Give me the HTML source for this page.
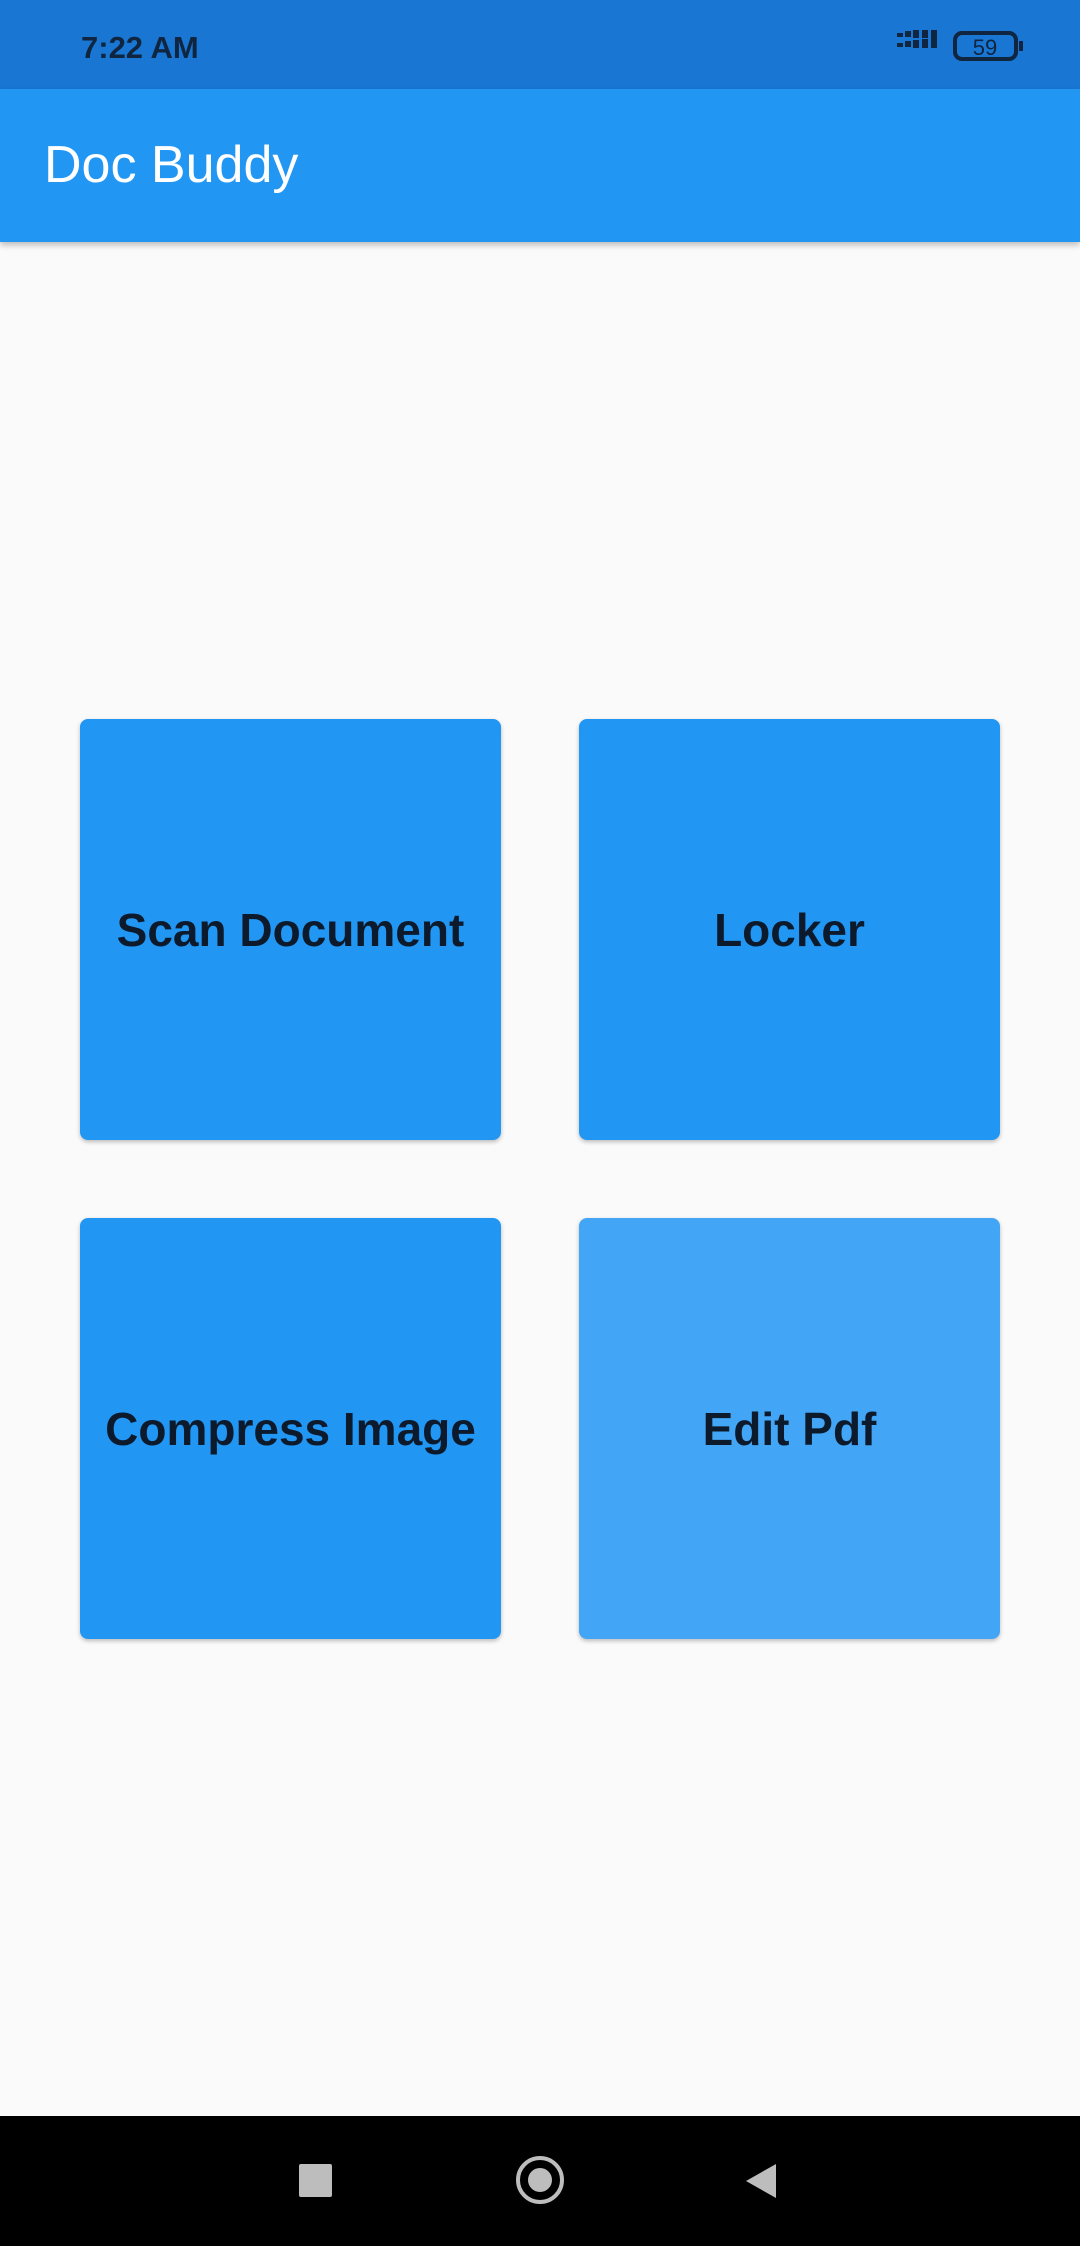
<!DOCTYPE html>
<html><head><style>
html,body{margin:0;padding:0}
body{width:1080px;height:2246px;position:relative;background:#fafafa;font-family:"Liberation Sans",sans-serif;overflow:hidden}
.sb{position:absolute;left:0;top:0;width:1080px;height:89px;background:#1976D2}
.ab{position:absolute;left:0;top:89px;width:1080px;height:153px;background:#2196F3;box-shadow:0 3px 6px rgba(0,0,0,.25)}
.card{position:absolute;width:421px;height:421px;background:#2196F3;border-radius:8px;box-shadow:0 2px 4px rgba(0,0,0,.25);display:flex;align-items:center;justify-content:center;font-weight:bold;font-size:46px;color:#0d1a2b}
.nav{position:absolute;left:0;top:2116px;width:1080px;height:130px;background:#000}
</style></head><body>
<div class="sb">
<div style="position:absolute;left:81px;top:30px;font-size:31px;font-weight:bold;color:#0f2540">7:22 AM</div>
<svg style="position:absolute;left:895px;top:30px" width="130" height="36">
<g fill="#0f2540">
<rect x="2" y="3" width="6" height="4"/><rect x="10" y="1" width="6" height="6"/><rect x="18" y="0" width="6" height="8"/><rect x="27" y="0" width="6" height="8"/><rect x="36" y="-2" width="6" height="10"/>
<rect x="2" y="13" width="6" height="4"/><rect x="10" y="11" width="6" height="6"/><rect x="18" y="10" width="6" height="8"/><rect x="27" y="9" width="6" height="9"/><rect x="36" y="8" width="6" height="10"/>
</g>
<rect x="60" y="3" width="61" height="26" rx="7" fill="none" stroke="#0f2540" stroke-width="4"/>
<rect x="124" y="11" width="4" height="10" fill="#0f2540"/>
<text x="90" y="25" font-size="22" text-anchor="middle" fill="#0f2540" font-family="Liberation Sans">59</text>
</svg>
</div>
<div class="ab"><div style="position:absolute;left:44px;top:46px;font-size:52px;color:#fff">Doc Buddy</div></div>
<div class="card" style="left:80px;top:719px">Scan Document</div>
<div class="card" style="left:579px;top:719px">Locker</div>
<div class="card" style="left:80px;top:1218px">Compress Image</div>
<div class="card" style="left:579px;top:1218px;background:#42A5F5">Edit Pdf</div>
<div class="nav">
<div style="position:absolute;left:299px;top:48px;width:33px;height:33px;background:#bdbdbd;border-radius:2px"></div>
<div style="position:absolute;left:516px;top:40px;width:40px;height:40px;border:4px solid #bdbdbd;border-radius:50%"></div>
<div style="position:absolute;left:528px;top:52px;width:24px;height:24px;background:#bdbdbd;border-radius:50%"></div>
<svg style="position:absolute;left:744px;top:46px" width="34" height="38"><polygon points="32,2 32,36 2,19" fill="#bdbdbd"/></svg>
</div>
</body></html>
